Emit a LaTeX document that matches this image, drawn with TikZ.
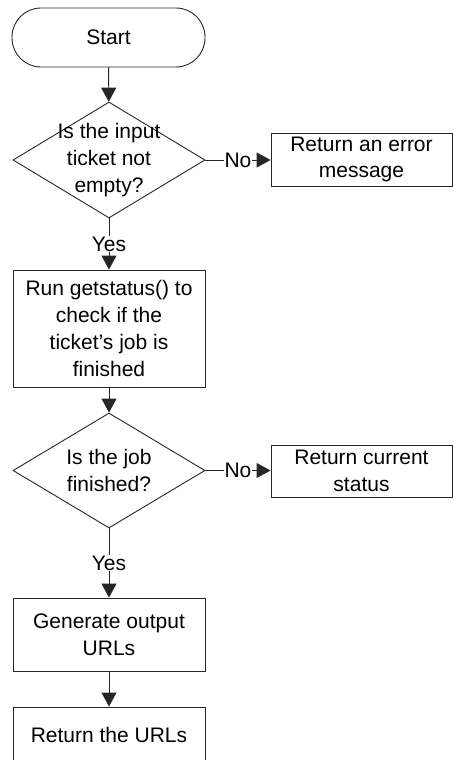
\documentclass[tikz,border=0pt]{standalone}
\usepackage{fontspec}
\setmainfont{Liberation Sans}
\usetikzlibrary{shapes.geometric,arrows.meta}

\tikzset{
  every node/.style={font=\fontsize{21}{26.7}\selectfont, text=black},
  stroke/.style={draw=black!85, line width=0.9pt},
  terminal/.style={stroke, rectangle, rounded corners=29pt, minimum width=193pt, minimum height=59pt, inner sep=0pt},
  process/.style={stroke, rectangle, minimum width=#1, inner sep=0pt, align=center},
  decision/.style={stroke, diamond, minimum width=192pt, minimum height=116pt, inner sep=0pt},
  flow/.style={stroke, -{Triangle[length=14pt,width=15pt]}},
  branch/.style={fill=white, inner sep=1pt},
}

\begin{document}
\begin{tikzpicture}[x=1pt, y=-1pt]
  \useasboundingbox (0,0) rectangle (454,760);
  \clip (0,0) rectangle (454,760);

  % main column
  \node[terminal] (start) at (108.5,37.5) {Start};

  \node[decision] (d1) at (109,160) {};
  \node[align=center, inner sep=0pt] (d1text) at (d1.center) {Is the input\\ticket not\\empty?};

  \node[process=192pt, minimum height=117pt] (check) at (109,328.5)
    {Run getstatus() to\\check if the\\ticket’s job is\\finished};

  \node[decision, minimum height=115pt] (d2) at (109,470.5) {};
  \node[align=center, inner sep=0pt] (d2text) at (d2.center) {Is the job\\finished?};

  \node[process=192pt, minimum height=73pt] (gen) at (109,634.5) {Generate output\\URLs};

  \node[process=192pt, minimum height=56pt] (ret) at (109,735) {Return the URLs};

  % side outcomes
  \node[process=181pt, minimum height=53pt] (err) at (361.5,159.5) {Return an error\\message};
  \node[process=181pt, minimum height=52pt] (stat) at (361.5,471) {Return current\\status};

  % connectors
  \draw[flow] (start) -- (d1);
  \draw[flow] (d1.east) -- node[branch] {No} (err.west |- d1.east);
  \draw[flow] (d1.south) -- node[branch] {Yes} (check.north);
  \draw[flow] (check) -- (d2);
  \draw[flow] (d2.east) -- node[branch] {No} (stat.west |- d2.east);
  \draw[flow] (d2.south) -- node[branch] {Yes} (gen.north);
  \draw[flow] (gen) -- (ret);
\end{tikzpicture}
\end{document}
